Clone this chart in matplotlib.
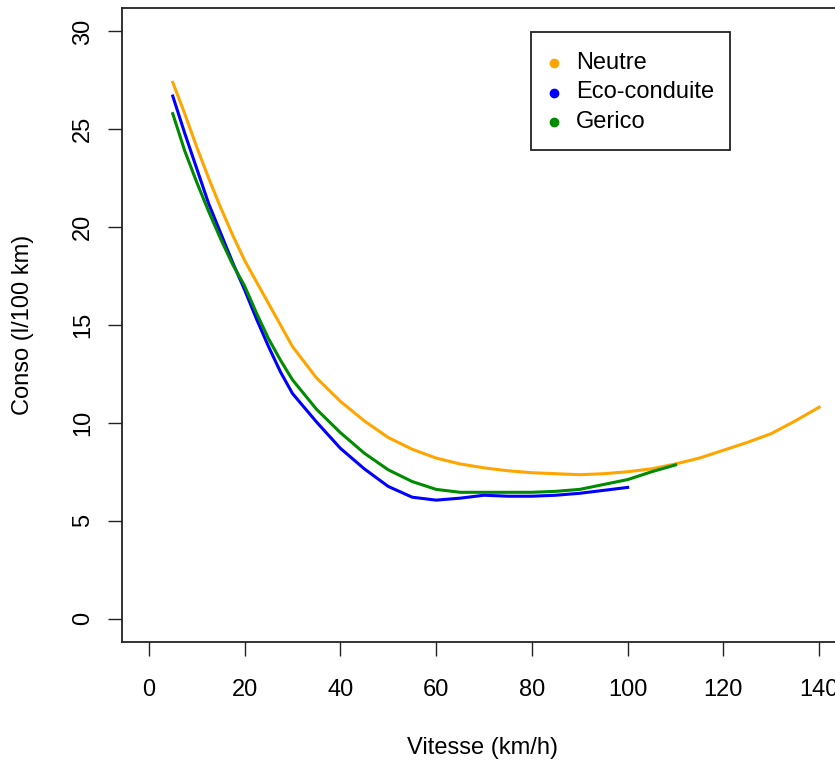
import numpy as np
import matplotlib.pyplot as plt
from matplotlib.lines import Line2D
from matplotlib.patches import Rectangle

plt.rcParams['font.family'] = ['Liberation Sans', 'DejaVu Sans']

W, H = 835, 763

# Vitesse (km/h)
v_neutre = [5, 7.5, 10, 12.5, 15, 17.5, 20, 22.5, 25, 27.5, 30, 35, 40, 45, 50, 55, 60,
            65, 70, 75, 80, 85, 90, 95, 100, 105, 110, 115, 120, 125, 130, 135, 140]
v_eco = [5, 7.5, 10, 12.5, 15, 17.5, 20, 22.5, 25, 27.5, 30, 35, 40, 45, 50, 55, 60,
         65, 70, 75, 80, 85, 90, 95, 100]
v_gerico = [5, 7.5, 10, 12.5, 15, 17.5, 20, 22.5, 25, 27.5, 30, 35, 40, 45, 50, 55, 60,
            65, 70, 75, 80, 85, 90, 95, 100, 105, 110]

# Conso (l/100 km)
c_neutre = [27.4, 25.8, 24.1, 22.5, 21.0, 19.6, 18.3, 17.2, 16.1, 15.0, 13.9, 12.3,
            11.1, 10.1, 9.25, 8.65, 8.2, 7.9, 7.7, 7.55, 7.45, 7.4, 7.35, 7.4, 7.5,
            7.65, 7.9, 8.2, 8.6, 9.0, 9.45, 10.1, 10.8]
c_eco = [26.7, 24.8, 23.0, 21.2, 19.7, 18.2, 16.8, 15.3, 13.9, 12.6, 11.5, 10.05, 8.7,
         7.65, 6.75, 6.2, 6.05, 6.15, 6.3, 6.25, 6.25, 6.3, 6.4, 6.55, 6.7]
c_gerico = [25.8, 23.9, 22.3, 20.8, 19.4, 18.1, 17.0, 15.6, 14.3, 13.2, 12.2, 10.7, 9.5,
            8.45, 7.6, 7.0, 6.6, 6.45, 6.45, 6.45, 6.45, 6.5, 6.6, 6.85, 7.1, 7.5, 7.85]

labels = ["Neutre", "Eco-conduite", "Gerico"]
colors = ["#FFA500", "#0000FF", "#008B00"]

fig = plt.figure(figsize=(W/100, H/100), dpi=100)
ax = fig.add_axes([122/W, 121/H, 724/W, 634/H])

ax.plot(v_neutre, c_neutre, color=colors[0], lw=2.2)
ax.plot(v_eco, c_eco, color=colors[1], lw=2.2)
ax.plot(v_gerico, c_gerico, color=colors[2], lw=2.2)

ax.set_xlim(-5.6, 145.6)
ax.set_ylim(-1.2, 31.2)
ax.set_xticks(np.arange(0, 141, 20))
ax.set_yticks(np.arange(0, 31, 5))
ax.tick_params(axis='both', length=10, width=1, labelsize=17, color='#222222')
ax.tick_params(axis='x', pad=17)
ax.tick_params(axis='y', pad=10)
for t in ax.get_yticklabels():
    t.set_rotation(90)
    t.set_va('center')
for s in ax.spines.values():
    s.set_linewidth(1.3)
    s.set_color('#222222')

fig.text(23/W, 1 - 325/H, "Conso (l/100 km)", rotation=90, ha='center', va='center', fontsize=17)
fig.text(483/W, 1 - 748/H, "Vitesse (km/h)", ha='center', va='center', fontsize=17)

# legend drawn in figure pixels, R style
fig.add_artist(Rectangle((531/W, 1 - 150/H), 199/W, 118.5/H, transform=fig.transFigure,
                         fill=False, edgecolor='#222222', lw=1.3))
for i, (lab, c) in enumerate(zip(labels, colors)):
    y = 1 - (63 + 29.5*i)/H
    fig.add_artist(Line2D([554/W], [y], transform=fig.transFigure, ls='none',
                          marker='o', ms=6, color=c))
    fig.text(576/W, y, lab, ha='left', va='center', fontsize=17)

plt.savefig('out.png', dpi=100)
